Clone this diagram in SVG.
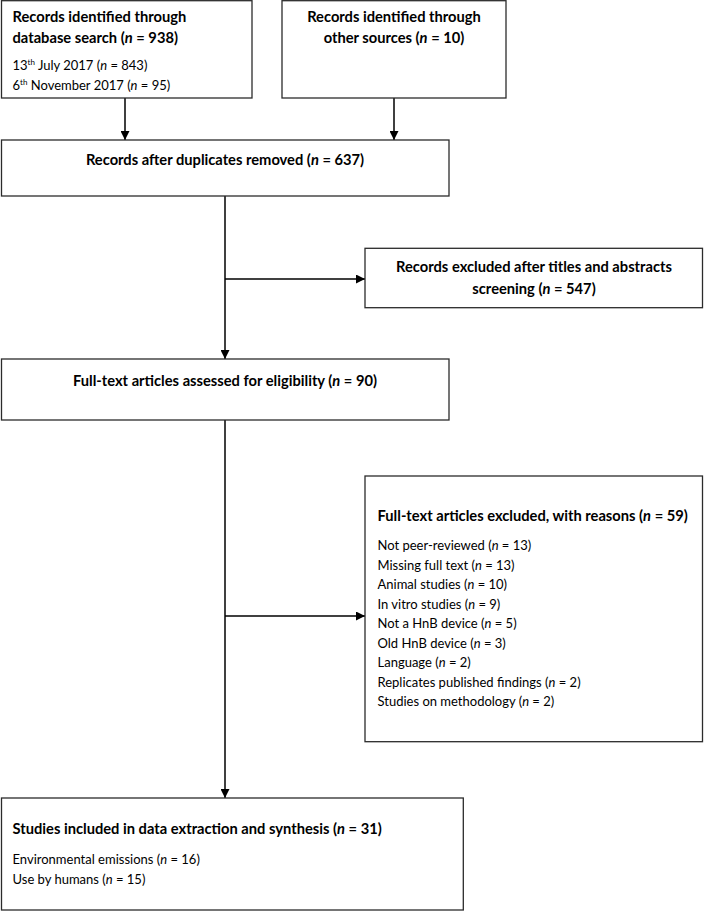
<svg xmlns="http://www.w3.org/2000/svg" width="704" height="911" viewBox="0 0 704 911">
<defs>
<style>
.box{fill:#fff;stroke:#2b2b2b;stroke-width:1.3}
.ln{fill:none;stroke:#000;stroke-width:1.5}
.h{font-family:Lato,"Liberation Sans",sans-serif;font-weight:bold;font-size:14.7px;fill:#000}
.t{font-family:Lato,"Liberation Sans",sans-serif;font-size:13px;fill:#000}
.c{text-anchor:middle}
.i{font-style:italic}
</style>
<marker id="ah" viewBox="0 0 10 10" refX="10" refY="5" markerWidth="6" markerHeight="6" markerUnits="strokeWidth" orient="auto">
<path d="M0,0 L10,5 L0,10 z" fill="#000"/>
</marker>
</defs>
<rect width="704" height="911" fill="#fff"/>
<g id="connectors">
<line class="ln" x1="125" y1="98" x2="125" y2="140" marker-end="url(#ah)"/>
<line class="ln" x1="394" y1="98" x2="394" y2="140" marker-end="url(#ah)"/>
<line class="ln" x1="225" y1="196" x2="225" y2="359" marker-end="url(#ah)"/>
<line class="ln" x1="225" y1="279" x2="365" y2="279" marker-end="url(#ah)"/>
<line class="ln" x1="225" y1="420" x2="225" y2="798" marker-end="url(#ah)"/>
<line class="ln" x1="225" y1="616" x2="365" y2="616" marker-end="url(#ah)"/>
</g>
<g id="db-search">
<rect class="box" x="1.5" y="0.7" width="250.5" height="97.3"/>
<text class="h" x="12.5" y="21.5">Records identified through</text>
<text class="h" x="12.5" y="42.5">database search (<tspan class="i">n</tspan> = 938)</text>
<text class="t" x="12.5" y="69.5">13<tspan font-size="8" dy="-5">th</tspan><tspan dy="5"> July 2017 (</tspan><tspan class="i">n</tspan> = 843)</text>
<text class="t" x="12.5" y="89.5">6<tspan font-size="8" dy="-5">th</tspan><tspan dy="5"> November 2017 (</tspan><tspan class="i">n</tspan> = 95)</text>
</g>
<g id="other-sources">
<rect class="box" x="282" y="0.7" width="224" height="97.3"/>
<text class="h c" x="394" y="21.5">Records identified through</text>
<text class="h c" x="394" y="42.5">other sources (<tspan class="i">n</tspan> = 10)</text>
</g>
<g id="duplicates-removed">
<rect class="box" x="1.5" y="140" width="447.5" height="56"/>
<text class="h c" x="225" y="165">Records after duplicates removed (<tspan class="i">n</tspan> = 637)</text>
</g>
<g id="excluded-screening">
<rect class="box" x="365" y="248.3" width="337.5" height="59.4"/>
<text class="h c" x="534" y="271.5">Records excluded after titles and abstracts</text>
<text class="h c" x="534" y="293.5">screening (<tspan class="i">n</tspan> = 547)</text>
</g>
<g id="full-text-assessed">
<rect class="box" x="1.5" y="359" width="447.5" height="61"/>
<text class="h c" x="225" y="386">Full-text articles assessed for eligibility (<tspan class="i">n</tspan> = 90)</text>
</g>
<g id="full-text-excluded">
<rect class="box" x="365" y="476" width="337.5" height="265.7"/>
<text class="h" x="377.5" y="520.5">Full-text articles excluded, with reasons (<tspan class="i">n</tspan> = 59)</text>
<text class="t" x="377.5" y="550">Not peer-reviewed (<tspan class="i">n</tspan> = 13)</text>
<text class="t" x="377.5" y="569.5">Missing full text (<tspan class="i">n</tspan> = 13)</text>
<text class="t" x="377.5" y="589">Animal studies (<tspan class="i">n</tspan> = 10)</text>
<text class="t" x="377.5" y="608.5">In vitro studies (<tspan class="i">n</tspan> = 9)</text>
<text class="t" x="377.5" y="628">Not a HnB device (<tspan class="i">n</tspan> = 5)</text>
<text class="t" x="377.5" y="647.5">Old HnB device (<tspan class="i">n</tspan> = 3)</text>
<text class="t" x="377.5" y="667">Language (<tspan class="i">n</tspan> = 2)</text>
<text class="t" x="377.5" y="686.5">Replicates published findings (<tspan class="i">n</tspan> = 2)</text>
<text class="t" x="377.5" y="706">Studies on methodology (<tspan class="i">n</tspan> = 2)</text>
</g>
<g id="included">
<rect class="box" x="1.5" y="798" width="461.8" height="112"/>
<text class="h" x="12.5" y="834">Studies included in data extraction and synthesis (<tspan class="i">n</tspan> = 31)</text>
<text class="t" x="12.5" y="864">Environmental emissions (<tspan class="i">n</tspan> = 16)</text>
<text class="t" x="12.5" y="883.5">Use by humans (<tspan class="i">n</tspan> = 15)</text>
</g>
</svg>
